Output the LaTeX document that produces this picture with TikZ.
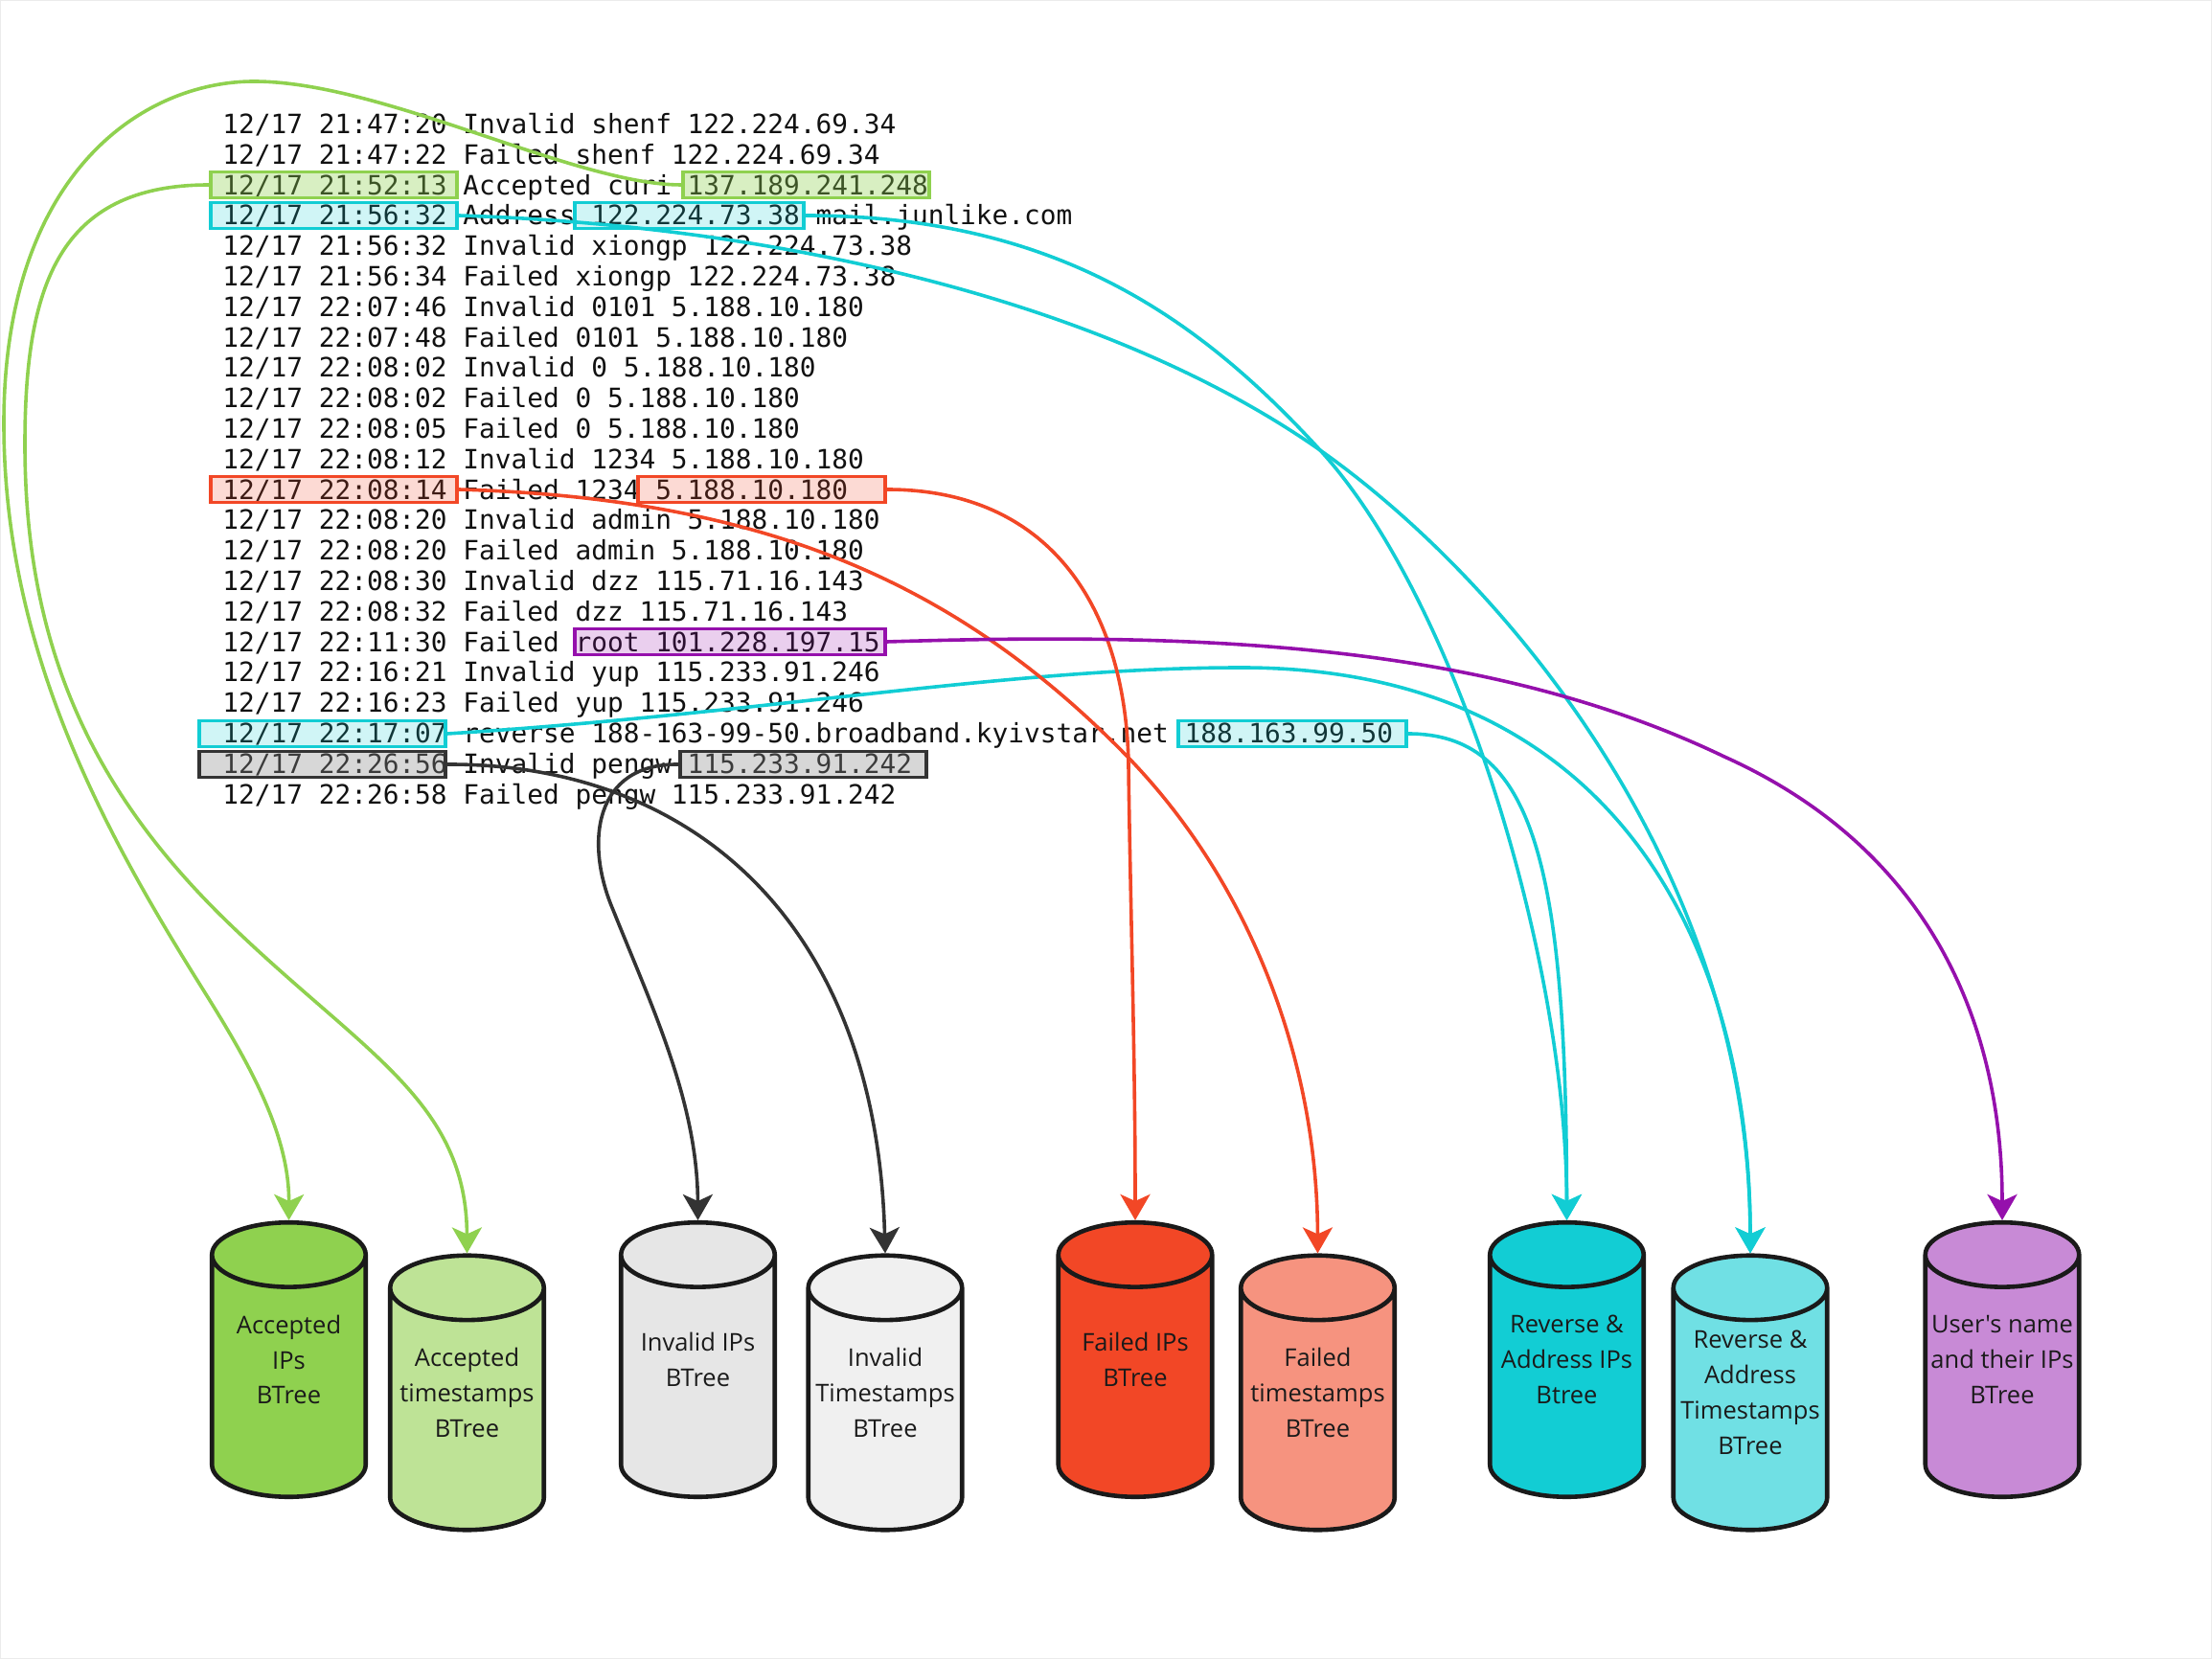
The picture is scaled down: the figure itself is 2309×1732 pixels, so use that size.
\documentclass[tikz,border=0pt]{standalone}
\usepackage{fontspec}
\usepackage{xcolor}
\usepackage{tikz}
\usetikzlibrary{shapes.geometric, arrows.meta, fit}
\newfontfamily\logfont{DejaVu Sans Mono}
\newfontfamily\dbfont{Open Sans}
\definecolor{accgreen}{HTML}{8FD14F}
\definecolor{accgreenl}{HTML}{BEE396}
\definecolor{invgrey}{HTML}{E6E6E6}
\definecolor{invgreyl}{HTML}{F0F0F0}
\definecolor{invline}{HTML}{333333}
\definecolor{failred}{HTML}{F24726}
\definecolor{failredl}{HTML}{F6937F}
\definecolor{revcyan}{HTML}{12CDD4}
\definecolor{revcyanl}{HTML}{70E0E4}
\definecolor{userpurple}{HTML}{9510AC}
\definecolor{userpurplel}{HTML}{C88AD6}
\definecolor{dbline}{HTML}{1A1A1A}
\definecolor{logtext}{HTML}{111111}

\begin{document}
\begin{tikzpicture}[
    x=0.5pt, y=-0.5pt,
    logline/.style={anchor=base west, inner sep=0pt, text=logtext,
      font=\logfont\fontsize{13.9pt}{15.9pt}\selectfont},
    hl/.style 2 args={draw=#1, fill=#1, fill opacity=#2, line width=1.9pt, inner sep=0pt},
    db/.style={cylinder, shape border rotate=90, aspect=0.42, draw=dbline, line width=2.3pt,
      minimum width=80.25pt, minimum height=143.25pt, inner xsep=40.1pt, inner ysep=0pt,
      anchor=shape center},
    dblabel/.style={align=center, inner sep=0pt, text=dbline,
      font=\dbfont\fontsize{12.75pt}{18.4pt}\selectfont},
    link/.style={line width=1.8pt, -{Stealth[length=13.5pt, width=15.5pt, inset=3.5pt]}}
  ]
  \useasboundingbox (0,0) rectangle (2309,1732);
  \draw[black!8, line width=1pt] (0,0) rectangle (2309,1732);

  \foreach \logtxt [count=\i] in {
    {12/17 21:47:20 Invalid shenf 122.224.69.34},
    {12/17 21:47:22 Failed shenf 122.224.69.34},
    {12/17 21:52:13 Accepted curi 137.189.241.248},
    {12/17 21:56:32 Address 122.224.73.38 mail.junlike.com},
    {12/17 21:56:32 Invalid xiongp 122.224.73.38},
    {12/17 21:56:34 Failed xiongp 122.224.73.38},
    {12/17 22:07:46 Invalid 0101 5.188.10.180},
    {12/17 22:07:48 Failed 0101 5.188.10.180},
    {12/17 22:08:02 Invalid 0 5.188.10.180},
    {12/17 22:08:02 Failed 0 5.188.10.180},
    {12/17 22:08:05 Failed 0 5.188.10.180},
    {12/17 22:08:12 Invalid 1234 5.188.10.180},
    {12/17 22:08:14 Failed 1234 5.188.10.180},
    {12/17 22:08:20 Invalid admin 5.188.10.180},
    {12/17 22:08:20 Failed admin 5.188.10.180},
    {12/17 22:08:30 Invalid dzz 115.71.16.143},
    {12/17 22:08:32 Failed dzz 115.71.16.143},
    {12/17 22:11:30 Failed root 101.228.197.15},
    {12/17 22:16:21 Invalid yup 115.233.91.246},
    {12/17 22:16:23 Failed yup 115.233.91.246},
    {12/17 22:17:07 reverse 188-163-99-50.broadband.kyivstar.net 188.163.99.50},
    {12/17 22:26:56 Invalid pengw 115.233.91.242},
    {12/17 22:26:58 Failed pengw 115.233.91.242}}
    \node[logline] (log\i) at (232,{139.5+31.8*(\i-1)}) {\logtxt};

  \node[hl={accgreen}{0.35}, fit={(220,179.5) (477,206.5)}] (accTime) {};
  \node[hl={accgreen}{0.35}, fit={(713,179.5) (970,206.5)}] (accIP) {};
  \node[hl={revcyan}{0.2}, fit={(220,211.5) (477,238.5)}] (addrTime) {};
  \node[hl={revcyan}{0.2}, fit={(600,211.5) (839,238.5)}] (addrIP) {};
  \node[hl={failred}{0.2}, fit={(220,497.5) (477,524.5)}] (failTime) {};
  \node[hl={failred}{0.2}, fit={(666,497.5) (924,524.5)}] (failIP) {};
  \node[hl={userpurple}{0.2}, fit={(600,656.5) (924,683.5)}] (user) {};
  \node[hl={revcyan}{0.2}, fit={(208,752.5) (465,779.5)}] (revTime) {};
  \node[hl={revcyan}{0.2}, fit={(1230,752.5) (1468,779.5)}] (revIP) {};
  \node[hl={invline}{0.35}, fill=black!45, fit={(208,784.5) (465,811.5)}] (invTime) {};
  \node[hl={invline}{0.35}, fill=black!45, fit={(710,784.5) (967,811.5)}] (invIP) {};

  \node[db, fill=accgreen] (accIPs) at (301.5,1419.5) {};
  \node[db, fill=accgreenl] (accTS) at (487.5,1454) {};
  \node[db, fill=invgrey] (invIPs) at (728.5,1419.5) {};
  \node[db, fill=invgreyl] (invTS) at (924,1454) {};
  \node[db, fill=failred] (failIPs) at (1185,1419.5) {};
  \node[db, fill=failredl] (failTS) at (1375.5,1454) {};
  \node[db, fill=revcyan] (revIPs) at (1635.5,1419.5) {};
  \node[db, fill=revcyanl] (revTS) at (1827,1454) {};
  \node[db, fill=userpurplel] (userIPs) at (2090,1419.5) {};

  \node[dblabel] (accIPsText) at (accIPs.shape center) {Accepted\\IPs\\BTree};
  \node[dblabel] (accTSText) at (accTS.shape center) {Accepted\\timestamps\\BTree};
  \node[dblabel] (invIPsText) at (invIPs.shape center) {Invalid IPs\\BTree};
  \node[dblabel] (invTSText) at (invTS.shape center) {Invalid\\Timestamps\\BTree};
  \node[dblabel] (failIPsText) at (failIPs.shape center) {Failed IPs\\BTree};
  \node[dblabel] (failTSText) at (failTS.shape center) {Failed\\timestamps\\BTree};
  \node[dblabel] (revIPsText) at (revIPs.shape center) {Reverse \&\\Address IPs\\Btree};
  \node[dblabel] (revTSText) at (revTS.shape center) {Reverse \&\\Address\\Timestamps\\BTree};
  \node[dblabel] (userIPsText) at (userIPs.shape center) {User's name\\and their IPs\\BTree};

  \draw[link, accgreen] (accIP.west) .. controls (600,193) and (400,85) .. (265,85)
    .. controls (150,85) and (4,180) .. (4,442)
    .. controls (4,680) and (110,870) .. (210,1030)
    .. controls (255,1102) and (302,1180) .. (accIPs.north);
  \draw[link, accgreen] (accTime.west) .. controls (60,193) and (26,300) .. (26,464)
    .. controls (26,680) and (100,830) .. (240,965)
    .. controls (380,1100) and (487,1150) .. (accTS.north);
  \draw[link, revcyan] (addrTime.east) .. controls (800,235) and (1150,310) .. (1378,470)
    .. controls (1560,598) and (1827,900) .. (revTS.north);
  \draw[link, revcyan] (addrIP.east) .. controls (1100,225) and (1250,330) .. (1378,470)
    .. controls (1520,625) and (1635,1000) .. (revIPs.north);
  \draw[link, revcyan] (revTime.east) .. controls (800,745) and (1050,697) .. (1296,697)
    .. controls (1680,697) and (1827,980) .. (revTS.north);
  \draw[link, revcyan] (revIP.east) .. controls (1600,766) and (1635,900) .. (revIPs.north);
  \draw[link, failred] (failTime.east) .. controls (800,520) and (1000,610) .. (1174,787)
    .. controls (1300,915) and (1375,1100) .. (failTS.north);
  \draw[link, failred] (failIP.east) .. controls (1100,511) and (1176,640) .. (1178,800)
    .. controls (1180,950) and (1185,1100) .. (failIPs.north);
  \draw[link, userpurple] (user.east) .. controls (1250,660) and (1550,670) .. (1800,790)
    .. controls (2000,880) and (2090,1050) .. (userIPs.north);
  \draw[link, invline] (invTime.east) .. controls (720,797) and (915,960) .. (invTS.north);
  \draw[link, invline] (invIP.west) .. controls (620,797) and (610,880) .. (640,950)
    .. controls (680,1050) and (728,1150) .. (invIPs.north);
\end{tikzpicture}
\end{document}
